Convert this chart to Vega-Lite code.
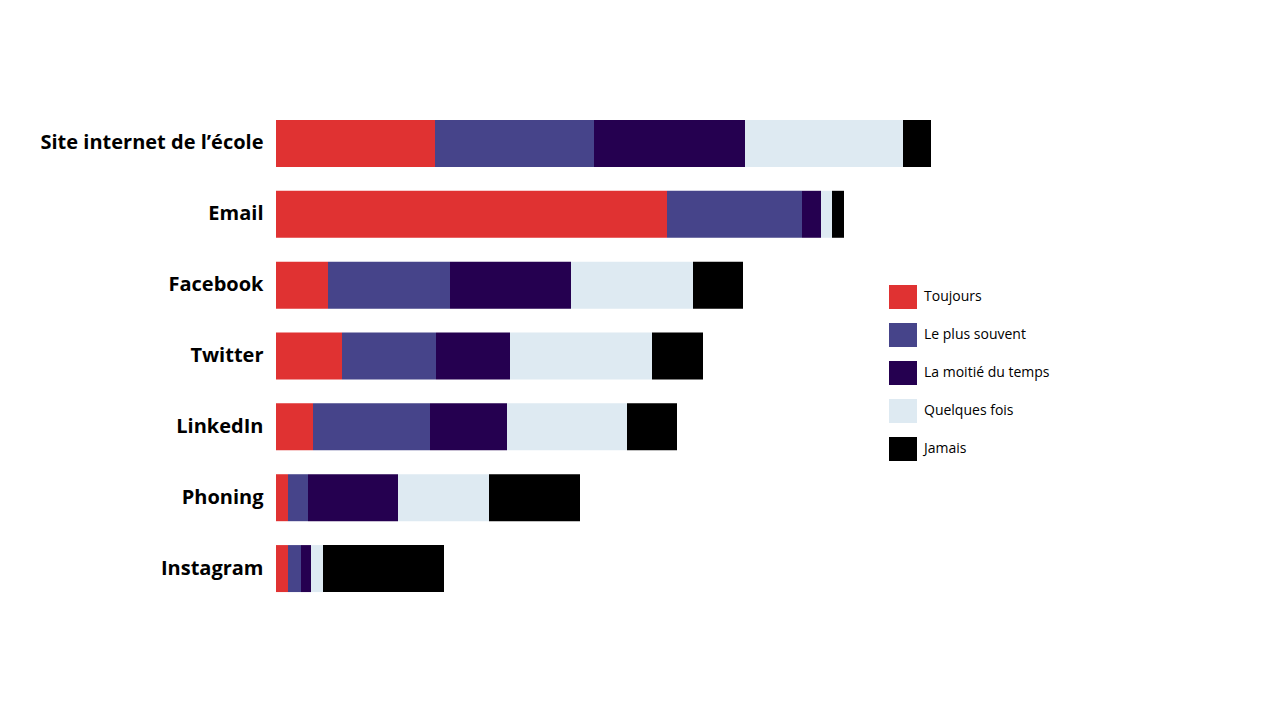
{
  "$schema": "https://vega.github.io/schema/vega-lite/v6.json",
  "autosize": "none",
  "width": 660,
  "height": 496,
  "padding": {"left": 276, "top": 108, "right": 344, "bottom": 116},
  "background": "white",
  "config": {"view": {"stroke": null}},
  "data": {"values": [
    {"canal": "Site internet de l’école", "reponse": "Toujours", "ordre": 1, "valeur": 159},
    {"canal": "Site internet de l’école", "reponse": "Le plus souvent", "ordre": 2, "valeur": 159},
    {"canal": "Site internet de l’école", "reponse": "La moitié du temps", "ordre": 3, "valeur": 151},
    {"canal": "Site internet de l’école", "reponse": "Quelques fois", "ordre": 4, "valeur": 158},
    {"canal": "Site internet de l’école", "reponse": "Jamais", "ordre": 5, "valeur": 28},
    {"canal": "Email", "reponse": "Toujours", "ordre": 1, "valeur": 391},
    {"canal": "Email", "reponse": "Le plus souvent", "ordre": 2, "valeur": 135},
    {"canal": "Email", "reponse": "La moitié du temps", "ordre": 3, "valeur": 19},
    {"canal": "Email", "reponse": "Quelques fois", "ordre": 4, "valeur": 11},
    {"canal": "Email", "reponse": "Jamais", "ordre": 5, "valeur": 12},
    {"canal": "Facebook", "reponse": "Toujours", "ordre": 1, "valeur": 52},
    {"canal": "Facebook", "reponse": "Le plus souvent", "ordre": 2, "valeur": 122},
    {"canal": "Facebook", "reponse": "La moitié du temps", "ordre": 3, "valeur": 121},
    {"canal": "Facebook", "reponse": "Quelques fois", "ordre": 4, "valeur": 122},
    {"canal": "Facebook", "reponse": "Jamais", "ordre": 5, "valeur": 50},
    {"canal": "Twitter", "reponse": "Toujours", "ordre": 1, "valeur": 66},
    {"canal": "Twitter", "reponse": "Le plus souvent", "ordre": 2, "valeur": 94},
    {"canal": "Twitter", "reponse": "La moitié du temps", "ordre": 3, "valeur": 74},
    {"canal": "Twitter", "reponse": "Quelques fois", "ordre": 4, "valeur": 142},
    {"canal": "Twitter", "reponse": "Jamais", "ordre": 5, "valeur": 51},
    {"canal": "LinkedIn", "reponse": "Toujours", "ordre": 1, "valeur": 37},
    {"canal": "LinkedIn", "reponse": "Le plus souvent", "ordre": 2, "valeur": 117},
    {"canal": "LinkedIn", "reponse": "La moitié du temps", "ordre": 3, "valeur": 77},
    {"canal": "LinkedIn", "reponse": "Quelques fois", "ordre": 4, "valeur": 120},
    {"canal": "LinkedIn", "reponse": "Jamais", "ordre": 5, "valeur": 50},
    {"canal": "Phoning", "reponse": "Toujours", "ordre": 1, "valeur": 12},
    {"canal": "Phoning", "reponse": "Le plus souvent", "ordre": 2, "valeur": 20},
    {"canal": "Phoning", "reponse": "La moitié du temps", "ordre": 3, "valeur": 90},
    {"canal": "Phoning", "reponse": "Quelques fois", "ordre": 4, "valeur": 91},
    {"canal": "Phoning", "reponse": "Jamais", "ordre": 5, "valeur": 91},
    {"canal": "Instagram", "reponse": "Toujours", "ordre": 1, "valeur": 12},
    {"canal": "Instagram", "reponse": "Le plus souvent", "ordre": 2, "valeur": 13},
    {"canal": "Instagram", "reponse": "La moitié du temps", "ordre": 3, "valeur": 10},
    {"canal": "Instagram", "reponse": "Quelques fois", "ordre": 4, "valeur": 12},
    {"canal": "Instagram", "reponse": "Jamais", "ordre": 5, "valeur": 121}
  ]},
  "mark": {"type": "bar"},
  "encoding": {
    "y": {
      "field": "canal", "type": "nominal",
      "sort": ["Site internet de l’école", "Email", "Facebook", "Twitter", "LinkedIn", "Phoning", "Instagram"],
      "scale": {"paddingInner": 0.337, "paddingOuter": 0.1685},
      "axis": {"title": null, "domain": false, "ticks": false, "labelPadding": 13,
               "labelFont": "Open Sans", "labelFontWeight": "bold", "labelFontSize": 20, "labelColor": "#000000", "labelLimit": 400}
    },
    "x": {
      "field": "valeur", "type": "quantitative", "stack": "zero",
      "scale": {"domain": [0, 660], "nice": false},
      "axis": null
    },
    "order": {"field": "ordre", "type": "quantitative"},
    "color": {
      "field": "reponse", "type": "nominal",
      "scale": {
        "domain": ["Toujours", "Le plus souvent", "La moitié du temps", "Quelques fois", "Jamais"],
        "range": ["#E03232", "#46448A", "#250050", "#DEEAF2", "#000000"]
      },
      "legend": {
        "title": null, "orient": "none", "legendX": 613, "legendY": 175,
        "symbolType": "M-1,-0.857H1V0.857H-1Z", "symbolSize": 784, "symbolStrokeWidth": 0,
        "symbolOpacity": 1, "rowPadding": 12, "labelOffset": 7,
        "labelFont": "Open Sans", "labelFontSize": 14, "labelColor": "#000000", "labelLimit": 300
      }
    }
  }
}
